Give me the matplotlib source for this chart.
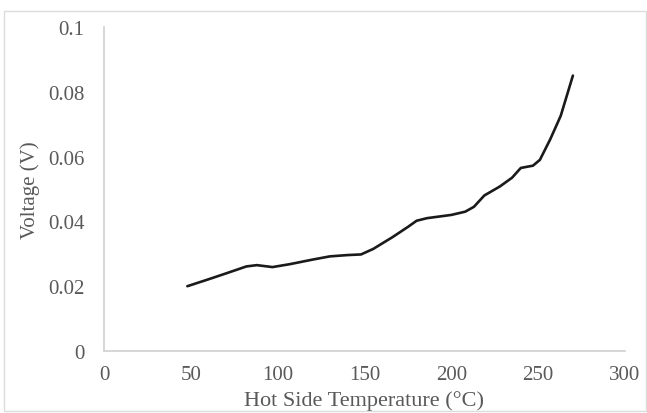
import matplotlib
matplotlib.use("Agg")
import matplotlib.pyplot as plt
from matplotlib.patches import Rectangle

# values
temp = [48, 60, 70, 82, 88, 97, 107, 120, 130, 140, 148, 155, 166, 175, 180,
        186, 200, 208, 213, 219, 228, 235, 240, 247, 251, 257, 263, 270]
volt = [0.0200, 0.0221, 0.0239, 0.0261, 0.0265, 0.0259, 0.0268, 0.0282, 0.0292,
        0.0296, 0.0298, 0.0315, 0.0351, 0.0383, 0.0402, 0.0410, 0.0420, 0.0430,
        0.0445, 0.0480, 0.0508, 0.0535, 0.0565, 0.0572, 0.0590, 0.0654, 0.0726,
        0.0850]
xticks = [0, 50, 100, 150, 200, 250, 300]
yticks = [0, 0.02, 0.04, 0.06, 0.08, 0.1]
ytick_labels = ["0", "0.02", "0.04", "0.06", "0.08", "0.1"]

plt.rcParams["font.family"] = ["Liberation Serif", "DejaVu Serif"]
grey = "#595959"

fig = plt.figure(figsize=(6.47, 4.14), dpi=100)
ax = fig.add_axes([104 / 647, 62 / 414, 521 / 647, 324 / 414])

ax.plot(temp, volt, color="#1a1a1a", linewidth=1.9,
        solid_joinstyle="round", solid_capstyle="round")

ax.set_xlim(0, 300)
ax.set_ylim(0, 0.1)
ax.set_xticks(xticks)
ax.set_xticklabels([str(t) for t in xticks])
ax.set_yticks(yticks)
ax.set_yticklabels(ytick_labels)
ax.tick_params(length=0, labelsize=15, labelcolor=grey)
ax.tick_params(axis="y", pad=14)
ax.tick_params(axis="x", pad=10)

for side in ["top", "right"]:
    ax.spines[side].set_visible(False)
for side in ["left", "bottom"]:
    ax.spines[side].set_color("#d0d0d0")
    ax.spines[side].set_linewidth(1.2)

ax.set_xlabel("Hot Side Temperature (°C)", fontsize=16, color=grey, labelpad=4.5)
ax.set_ylabel("Voltage (V)", fontsize=15, color=grey, labelpad=6)

# light chart-area border
fig.patches.append(Rectangle((4 / 647, 2 / 414), 642 / 647, 400 / 414,
                             transform=fig.transFigure, fill=False,
                             edgecolor="#dcdcdc", linewidth=1.0))

fig.savefig("out.png", dpi=100)
